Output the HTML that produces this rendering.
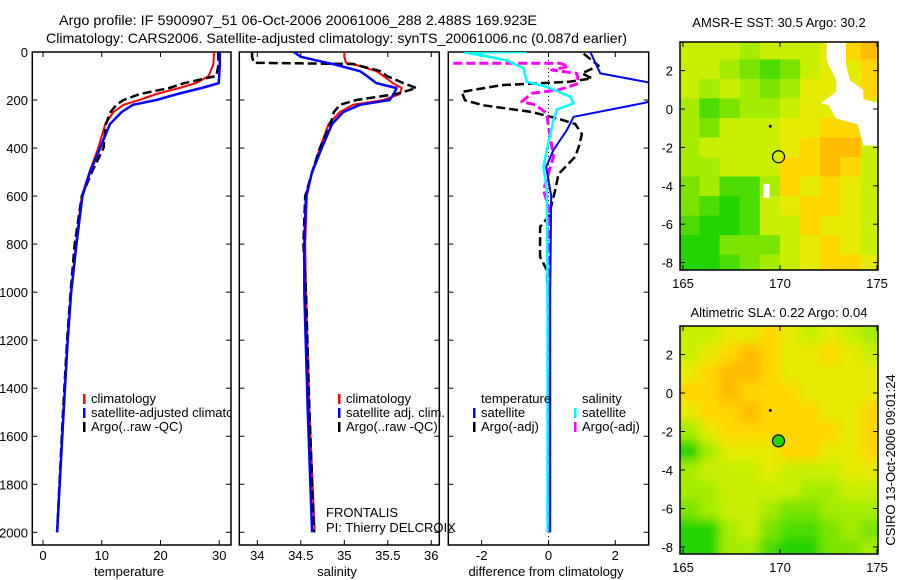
<!DOCTYPE html>
<html><head><meta charset="utf-8"><style>
html,body{margin:0;padding:0;background:#fff}
svg{display:block;font-family:"Liberation Sans",sans-serif}
text{fill:#000}
</style></head><body>
<svg id="fig" width="900" height="580" viewBox="0 0 900 580" xmlns="http://www.w3.org/2000/svg">
<defs>
<clipPath id="c1"><rect x="32" y="52" width="199" height="493"/></clipPath>
<clipPath id="c2"><rect x="239" y="52" width="200" height="493"/></clipPath>
<clipPath id="c3"><rect x="448" y="52" width="200" height="493"/></clipPath>
<clipPath id="cm1"><rect x="680" y="42" width="198" height="228"/></clipPath>
<clipPath id="cm2"><rect x="680" y="326" width="198" height="228"/></clipPath>
<filter id="blur" filterUnits="userSpaceOnUse" x="600" y="250" width="350" height="380"><feGaussianBlur stdDeviation="5"/></filter>
</defs>
<text x="59" y="25" font-size="14" textLength="478" lengthAdjust="spacingAndGlyphs">Argo profile: IF 5900907_51 06-Oct-2006 20061006_288 2.488S 169.923E</text>
<text x="46" y="43" font-size="14" textLength="581" lengthAdjust="spacingAndGlyphs">Climatology: CARS2006. Satellite-adjusted climatology: synTS_20061006.nc (0.087d earlier)</text>
<g id="g1"></g>
<g id="g2"></g>
<g id="g3"></g>
<g id="m1"></g>
<g id="m2"></g>
<text x="779" y="27" font-size="13" text-anchor="middle">AMSR-E SST: 30.5 Argo: 30.2</text>
<text x="779" y="317" font-size="13" text-anchor="middle">Altimetric SLA: 0.22 Argo: 0.04</text>
<text transform="translate(895,460) rotate(-90)" font-size="13" text-anchor="middle">CSIRO 13-Oct-2006 09:01:24</text>
<text x="326" y="517" font-size="13">FRONTALIS</text>
<text x="326" y="532" font-size="13">PI: Thierry DELCROIX</text>
</svg>
<script>
// ---- data ----
const tDepth=[0,50,100,130,150,175,200,220,250,300,400,500,600,800,1000,1200,1500,2000];
const tClim=[29.1,29.0,28.2,26,23.2,19.3,16.4,13.7,12,10.6,9.4,7.9,6.6,5.6,4.8,4.2,3.5,2.5];
const tClimEnd=1550;
const tSat=[30.1,30.1,30.0,29.9,27,22.9,19.3,15.3,13.4,11.4,9.7,8.0,6.7,5.7,4.8,4.2,3.5,2.4];
const tArgo=[29.8,29.9,29.5,24,21.5,16.5,13.7,12.5,11.5,10.7,10.3,8.3,6.6,5.4,4.7,4.1,3.4,2.4];
const sDepth=[0,20,45,50,80,100,130,150,175,200,220,250,300,400,500,600,800,1000,1500,2000];
const sClim=[35.0,35.0,35.02,35.1,35.37,35.45,35.56,35.66,35.64,35.45,35.1,34.95,34.82,34.72,34.63,34.57,34.55,34.56,34.6,34.66];
const sSat=[34.42,34.5,34.8,34.87,35.18,35.26,35.37,35.6,35.57,35.52,35.18,34.99,34.86,34.74,34.63,34.56,34.54,34.54,34.58,34.63];
const sArgo=[33.94,33.94,33.96,35.1,35.42,35.49,35.68,35.83,35.6,35.14,34.95,34.88,34.84,34.72,34.63,34.55,34.53,34.56,34.6,34.65];
const dTempSatD=[0,89,124,150,180,211,270,325,408,478,600,1000,2000];
const dTempSat=[1.25,1.55,2.9,3.8,3.6,2.9,0.75,0.55,0.15,-0.07,0.08,0.05,0.05];
const dSalSatD=[0,2,15,35,68,124,144,186,213,240,283,408,478,575,1000,2000];
const dSalSat=[-0.65,-2.5,-1.96,-1.25,-0.75,-0.65,-0.05,0.65,0.75,0.25,0.15,-0.05,-0.15,-0.05,-0.03,-0.03];
const dTempArgoD=[7,57,89,110,124,138,166,201,222,250,278,300,342,397,436,508,575,686,728,853,908,1000,2000];
const dTempArgo=[1.05,1.5,1.0,1.3,0.6,-1.4,-2.6,-2.5,-1.95,-0.5,0.3,0.8,1.0,0.9,0.8,0.3,0.2,0.0,-0.25,-0.25,-0.05,-0.02,-0.02];
const dSalArgoD=[47,47,60,75,89,131,158,172,207,220,255,311,436,575,644,922,2000];
const dSalArgo=[-2.85,0.35,0.6,0.1,0.85,0.9,0.3,-0.5,-0.8,-0.4,-0.05,0.0,0.15,-0.15,0.0,0.0,0.0];
const depthTicks=[0,200,400,600,800,1000,1200,1400,1600,1800,2000];
const tTicks=[0,10,20,30];
const sTicks=[34,34.5,35,35.5,36];
const dTicks=[-2,0,2];
// map grids: 12 rows (lat 3.4 -> -8.4), 10 cols (lon 165 -> 175), values 0(green)..9(orange)
const sstGrid=[
[5,5,5,4,5,5,5,6,7,8],
[5,5,4,3,2,3,5,6,6,7],
[5,4,5,4,3,4,6,6,6,7],
[4,2,3,4,4,5,6,6,6,6],
[4,3,5,5,5,6,6,7,7,5],
[4,5,5,5,5,6,7,8,8,5],
[4,4,5,5,5,7,7,8,7,5],
[3,4,2,2,4,7,6,7,6,5],
[3,2,1,2,5,6,7,7,6,5],
[2,1,1,2,5,5,7,6,6,5],
[1,1,3,3,3,5,6,7,6,5],
[1,1,2,3,4,5,6,7,7,6]];
const slaGrid=[
[5,5,6,6,7,6,5,6,5,4],
[5,6,7,8,7,6,6,7,6,5],
[6,7,8,8,7,6,6,6,6,6],
[7,7,8,7,7,7,6,6,6,6],
[6,7,7,8,7,7,7,6,6,7],
[4,6,7,7,7,7,7,7,6,7],
[1,4,6,6,6,7,7,6,6,7],
[4,5,5,5,6,5,5,5,6,6],
[4,4,5,5,5,5,4,4,5,5],
[3,4,5,5,4,3,3,4,4,4],
[1,1,4,5,3,2,2,3,4,3],
[1,1,4,4,2,1,1,3,3,4]];
const lonTicks=[165,170,175];
const latTicks=[2,0,-2,-4,-6,-8];
const argoLon=169.923, argoLat=-2.488;

const NS="http://www.w3.org/2000/svg";
function mk(tag,attrs,parent){const e=document.createElementNS(NS,tag);for(const k in attrs)e.setAttribute(k,attrs[k]);parent.appendChild(e);return e;}
function txt(parent,x,y,s,anchor,size){const e=mk('text',{x:x,y:y,'font-size':size||13,'text-anchor':anchor||'start'},parent);e.textContent=s;return e;}

const Y0=52, Y1=532.3, FT=52, FB=545;
function sy(d){return Y0+(d/2000)*(Y1-Y0);}
function panel(g,clip,x0,x1,vmin,vmax,xt,tickLabels,xlabel,labelX){
  const sx=v=>x0+(v-vmin)/(vmax-vmin)*(x1-x0);
  const fr=mk('rect',{x:x0,y:FT,width:x1-x0,height:FB-FT,fill:'none',stroke:'#000','stroke-width':1.5},g);
  
  
  xt.forEach(v=>{const X=sx(v);
    mk('line',{x1:X,y1:FB,x2:X,y2:FB-5,stroke:'#000'},g);
    mk('line',{x1:X,y1:FT,x2:X,y2:FT+5,stroke:'#000'},g);
    const t=txt(g,X,560,String(v),'middle');
    
    
  });
  depthTicks.forEach(d=>{const Y=sy(d);
    mk('line',{x1:x0,y1:Y,x2:x0+5,y2:Y,stroke:'#000'},g);
    mk('line',{x1:x1,y1:Y,x2:x1-5,y2:Y,stroke:'#000'},g);
  });
  const xl=txt(g,labelX,576,xlabel,'middle');
  
  
  const cg=mk('g',{'clip-path':'url(#'+clip+')'},g);
  return {sx,cg};
}
function line(p,ds,vs,color,w,dash,name,maxD){
  let pts=[];for(let i=0;i<ds.length;i++){if(maxD!==undefined&&ds[i]>maxD)break;pts.push(p.sx(vs[i]).toFixed(1)+','+sy(ds[i]).toFixed(1));}
  const a={points:pts.join(' '),fill:'none',stroke:color,'stroke-width':w,'stroke-linejoin':'round'};
  if(dash)a['stroke-dasharray']=dash;
  const e=mk('polyline',a,p.cg);
  
  
}
function legend(g,x,y,color,label,name){
  mk('rect',{x:x,y:y-9,width:2.5,height:10,fill:color},g);
  const t=txt(g,x+8,y,label,'start');
  
  
}
// Panel 1
const g1=document.getElementById('g1');
const p1=panel(g1,'c1',32.3,231,-1.82,32,tTicks,null,'temperature',129);
depthTicks.forEach(d=>{const t=txt(g1,28,sy(d)+5,String(d),'end');
  
  });
line(p1,tDepth,tClim,'#f00',2,null,'temperature-climatology-line',tClimEnd);
line(p1,tDepth,tArgo,'#000',2.5,'9,4','temperature-argo-line');
line(p1,tDepth,tSat,'#00f',2.5,null,'temperature-satellite-line');
const lg1=mk('g',{'clip-path':'url(#c1)'},g1);
legend(lg1,83,403,'#f00','climatology','legend-climatology');
legend(lg1,83,417,'#00f','satellite-adjusted climatology','legend-satellite-adjusted');
legend(lg1,83,431,'#000','Argo(..raw -QC)','legend-argo');
// Panel 2
const g2=document.getElementById('g2');
const p2=panel(g2,'c2',239.3,439.3,33.793,36.092,sTicks,null,'salinity',337);
line(p2,sDepth,sClim,'#f00',2,null,'salinity-climatology-line');
line(p2,sDepth,sArgo,'#000',2.5,'9,4','salinity-argo-line');
line(p2,sDepth,sSat,'#00f',2.5,null,'salinity-satellite-line');
legend(g2,338,403,'#f00','climatology','legend-climatology');
legend(g2,338,417,'#00f','satellite adj. clim.','legend-satellite-adj');
legend(g2,338,431,'#000','Argo(..raw -QC)','legend-argo');
// Panel 3
const g3=document.getElementById('g3');
const p3=panel(g3,'c3',448.3,648.7,-3.0,3.0,dTicks,null,'difference from climatology',546);
const zl=mk('line',{x1:p3.sx(0),y1:FT,x2:p3.sx(0),y2:FB,stroke:'#000','stroke-dasharray':'1,3'},p3.cg);


line(p3,dTempArgoD,dTempArgo,'#000',2.5,'9,4','temp-argo-diff-line');
line(p3,dSalArgoD,dSalArgo,'#f0f',3,'9,4','sal-argo-diff-line');
line(p3,dTempSatD,dTempSat,'#00f',2,null,'temp-satellite-diff-line');
line(p3,dSalSatD,dSalSat,'#0ff',2.5,null,'sal-satellite-diff-line');
let h=txt(g3,481,403,'temperature');
h=txt(g3,582,403,'salinity');
legend(g3,473,417,'#00f','satellite','legend-temp-satellite');
legend(g3,473,431,'#000','Argo(-adj)','legend-temp-argo');
legend(g3,574,417,'#0ff','satellite','legend-sal-satellite');
legend(g3,574,431,'#f0f','Argo(-adj)','legend-sal-argo');

// Maps
const cmap=['#00c800','#22d400','#4cdc00','#7ae400','#a6ec00','#c8ee00','#e4ea00','#ffd600','#ffbc00','#f09000'];
function map(id,clip,grid,ytop,lat0y,dlat,blur){
  const g=document.getElementById(id);
  const lonX=lo=>683+(lo-165)*19.4;
  const latY=la=>lat0y-la*dlat;
  const cells=mk('g',{'clip-path':'url(#'+clip+')'},g);
  const inner=mk('g',blur?{filter:'url(#blur)'}:{},cells);
  const rows=grid.length, cols=grid[0].length;
  const latTop=3.6, latBot=-8.6, lonL=164.8, lonR=175.2;
  const rh=(latTop-latBot)/rows, cw=(lonR-lonL)/cols;
  for(let r=0;r<rows;r++)for(let c=0;c<cols;c++){
    let y=latY(latTop-r*rh), x=lonX(lonL+c*cw);
    let w=cw*19.4+0.6, hh=rh*dlat+0.6;
    if(blur){ if(r===0){y-=15;hh+=15;} if(r===rows-1){hh+=15;} if(c===0){x-=15;w+=15;} if(c===cols-1){w+=15;} }
    const e=mk('rect',{x:x.toFixed(1),y:y.toFixed(1),width:w.toFixed(1),height:hh.toFixed(1),fill:cmap[grid[r][c]]},inner);
    
    
  }
  const fr=mk('rect',{x:680,y:ytop,width:198,height:228,fill:'none',stroke:'#000','stroke-width':1.5},g);
  
  
  lonTicks.forEach(lo=>{const X=lonX(lo);
    mk('line',{x1:X,y1:ytop+228,x2:X,y2:ytop+223,stroke:'#000'},g);
    mk('line',{x1:X,y1:ytop,x2:X,y2:ytop+5,stroke:'#000'},g);
    const t=txt(g,X,ytop+246,String(lo),'middle');
    
    });
  latTicks.forEach(la=>{const Y=latY(la);
    mk('line',{x1:680,y1:Y,x2:685,y2:Y,stroke:'#000'},g);
    mk('line',{x1:878,y1:Y,x2:873,y2:Y,stroke:'#000'},g);
    const t=txt(g,673,Y+5,String(la),'end');
    
    });
  const dot=mk('circle',{cx:lonX(169.5),cy:latY(-0.9),r:1.5,fill:'#000'},cells);
  
  
  return {g,cells,lonX,latY};
}
const M1=map('m1','cm1',sstGrid,42,109,19.2,false);
const white=[[172.4,3.6],[173.4,3.6],[173.4,2.3],[173.6,1.5],[174.3,1.0],[174.3,0.5],[175.2,0.3],[175.2,-1.9],[174.3,-1.9],[174.0,-0.8],[172.9,-0.5],[172.5,0.2],[172.1,0.3],[172.9,0.9],[172.9,1.5],[172.4,2.5]];
const wp=mk('polygon',{points:white.map(p=>M1.lonX(p[0]).toFixed(1)+','+M1.latY(p[1]).toFixed(1)).join(' '),fill:'#fff'},M1.cells);


mk('rect',{x:M1.lonX(169.15),y:M1.latY(-3.9),width:6,height:14,fill:'#fff'},M1.cells);
const c1=mk('circle',{cx:M1.lonX(argoLon),cy:M1.latY(argoLat),r:6,fill:'none',stroke:'#000','stroke-width':1.2},M1.g);


const M2=map('m2','cm2',slaGrid,326,393,19.25,true);
const c2=mk('circle',{cx:M2.lonX(argoLon),cy:M2.latY(argoLat),r:6,fill:cmap[1],stroke:'#000','stroke-width':1.2},M2.g);


</script>
</body></html>
